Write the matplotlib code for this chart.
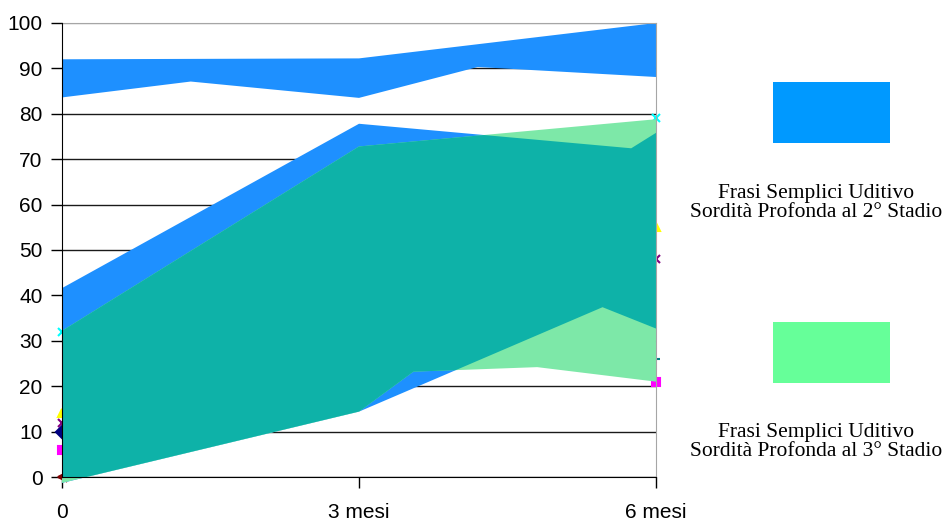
import matplotlib.pyplot as plt
from matplotlib.patches import Polygon, Rectangle

# x positions (months) and tick labels
months = [0, 3, 6]
month_labels = ['0', '3 mesi', '6 mesi']

# 2° stadio - upper band
top_upper_x = [0, 3, 6]
top_upper_y = [92.0, 92.2, 100.0]
top_lower_x = [0, 1.3, 3, 4.2, 6]
top_lower_y = [83.6, 87.1, 83.5, 90.3, 88.1]

# 2° stadio - lower band
blue_upper_x = [0, 3, 5.75, 6]
blue_upper_y = [41.6, 77.8, 72.4, 75.8]
blue_lower_x = [0, 3, 5.46, 6]
blue_lower_y = [-1.3, 14.4, 37.4, 32.7]

# 3° stadio band
green_upper_x = [0, 3, 6]
green_upper_y = [32.2, 72.8, 78.8]
green_lower_x = [0, 3, 3.55, 4.8, 6]
green_lower_y = [-1.3, 14.4, 23.2, 24.2, 21.0]

# single point markers (mostly hidden behind the areas)
start_vals = [0, 6, 10, 12, 14, 32]
start_marks = ['<', 's', 'D', 'x', '^', 'x']
start_cols = ['#800000', '#ff00ff', '#000080', '#800080', '#ffff00', '#00ffff']
end_vals = [21, 26, 48, 55, 79]
end_marks = ['s', '_', 'x', '^', 'x']
end_cols = ['#ff00ff', '#008080', '#800080', '#ffff00', '#00ffff']

legend_labels = ['Frasi Semplici Uditivo\nSordità Profonda al 2° Stadio',
                 'Frasi Semplici Uditivo\nSordità Profonda al 3° Stadio']

blue = '#1e90ff'
green = '#7de8a8'
teal = '#0eb2a8'


def band(ux, uy, lx, ly):
    return list(zip(ux, uy)) + list(zip(lx[::-1], ly[::-1]))


fig = plt.figure(figsize=(9.47, 5.22), dpi=100)
ax = fig.add_axes([0.0655, 0.0862, 0.6272, 0.8698])

for v, m, c in zip(start_vals, start_marks, start_cols):
    ax.plot(months[0], v, marker=m, color=c, ms=6, mew=1.5, zorder=1.5, clip_on=False)
for v, m, c in zip(end_vals, end_marks, end_cols):
    ax.plot(months[-1], v, marker=m, color=c, ms=6, mew=1.5, zorder=1.5, clip_on=False)

top_poly = Polygon(band(top_upper_x, top_upper_y, top_lower_x, top_lower_y),
                   closed=True, fc=blue, ec='none', zorder=2, clip_on=False)
ax.add_patch(top_poly)
blue_poly = Polygon(band(blue_upper_x, blue_upper_y, blue_lower_x, blue_lower_y),
                    closed=True, fc=blue, ec='none', zorder=2, clip_on=False)
ax.add_patch(blue_poly)
green_poly = Polygon(band(green_upper_x, green_upper_y, green_lower_x, green_lower_y),
                     closed=True, fc=green, ec='none', zorder=2.1, clip_on=False)
ax.add_patch(green_poly)
# overlap of the two bands
overlap = Polygon(band(blue_upper_x, blue_upper_y, blue_lower_x, blue_lower_y),
                  closed=True, fc=teal, ec='none', zorder=2.2)
ax.add_patch(overlap)
overlap.set_clip_path(green_poly)

ax.set_xlim(0, 6)
ax.set_ylim(0, 100)
ax.set_yticks(range(0, 101, 10))
ax.set_xticks(months)
ax.set_xticklabels(month_labels)

ax.grid(axis='y', color='#1a1a1a', linewidth=1)
ax.set_axisbelow(True)
ax.yaxis.get_gridlines()[-1].set_color('#a6a6a6')

for s in ['top', 'right']:
    ax.spines[s].set_color('#a6a6a6')
for s in ['left', 'bottom']:
    ax.spines[s].set_color('black')
    ax.spines[s].set_zorder(3)

ax.tick_params(axis='y', length=8, width=1, pad=6, labelsize=15)
ax.tick_params(axis='x', length=8, width=1, pad=11, labelsize=15)
for lab in ax.get_xticklabels() + ax.get_yticklabels():
    lab.set_family('Liberation Sans')

# legend on the right
fig.add_artist(Rectangle((0.8163, 0.7255), 0.1235, 0.118, transform=fig.transFigure,
                         fc='#0099ff', ec='none'))
fig.add_artist(Rectangle((0.8163, 0.2657), 0.1235, 0.118, transform=fig.transFigure,
                         fc='#66ff99', ec='none'))
fig.text(0.8617, 0.612, legend_labels[0], ha='center', va='center', family='Liberation Serif',
         fontsize=15.5, linespacing=1.0)
fig.text(0.8617, 0.1523, legend_labels[1], ha='center', va='center', family='Liberation Serif',
         fontsize=15.5, linespacing=1.0)

fig.savefig('out.png', dpi=100)
